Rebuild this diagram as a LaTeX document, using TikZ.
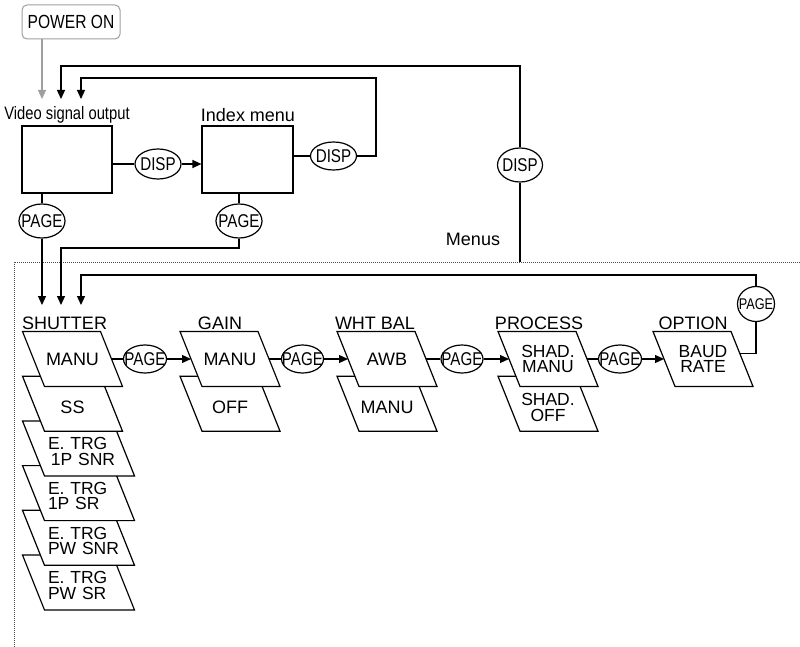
\documentclass[tikz,border=0pt]{standalone}
\usepackage{fontspec}
\setmainfont{Liberation Sans}
\newfontfamily\narrowfont[FakeStretch=0.82]{Liberation Sans}
\usetikzlibrary{arrows.meta,calc,shapes.geometric}
\newcommand\keytext[1]{\makebox[0pt]{#1}}
\newcommand\mycard[6]{%
  \draw[cardline] (#2,#3) coordinate (#1-nw) -- ++(#4,0) coordinate (#1-ne)
     -- ++(22,55) coordinate (#1-se) -- ++(-#4,0) coordinate (#1-sw) -- cycle;
  \coordinate (#1-w) at ($(#1-nw)!0.5!(#1-sw)$);
  \coordinate (#1-e) at ($(#1-ne)!0.5!(#1-se)$);
  \node[cardtext,#6] (#1) at ($(#1-nw)!0.5!(#1-se)$) {#5};
}
\tikzset{
  conn/.style={line width=1.2pt, draw=black},
  arr/.style={conn, -{Triangle[length=9pt,width=8pt]}},
  garr/.style={line width=1.2pt, draw=gray!75, -{Triangle[length=9pt,width=8pt]}},
  box/.style={draw, line width=1.2pt, rectangle, inner sep=0pt},
  keyell/.style={draw, line width=1.2pt, ellipse, inner sep=0pt, fill=white,
     font=\narrowfont\fontsize{18.5}{18.5}\selectfont},
  lbl/.style={inner sep=0pt, anchor=base, font=\fontsize{18}{18}\selectfont},
  cardline/.style={draw, fill=white, line width=1.2pt, line join=miter},
  cardtext/.style={inner sep=0pt, align=center, font=\fontsize{18}{15.5}\selectfont},
  twoline/.style={font=\fontsize{17.5}{15.5}\selectfont},
  etrg/.style={twoline, text width=74pt, align=left, xshift=6.5pt, yshift=-3pt},
  lower/.style={yshift=-4pt},
  frame/.style={draw=gray!60!black, line width=0.8pt, dash pattern=on 1pt off 1pt},
}
\begin{document}
\begin{tikzpicture}[x=1pt,y=-1pt]
\useasboundingbox (0,0) rectangle (800,647);
\fill[white] (0,0) rectangle (800,647);

% dotted frame of the menus
\draw[frame] (800,262) -- (14,262) -- (14,647);

% top part
\node[draw=gray!75, line width=1pt, rounded corners=5pt, minimum width=98pt, minimum height=34pt,
      inner sep=0pt, font=\narrowfont\fontsize{19}{19}\selectfont] (pw) at (71,22) {POWER ON};

\node[box, minimum width=90pt, minimum height=67pt] (vso) at (67,159.5) {};
\node[box, minimum width=91pt, minimum height=67pt] (idx) at (247.5,159.5) {};
\node[lbl, font=\narrowfont\fontsize{18}{18}\selectfont] (vsolbl) at (67,120) {Video signal output};
\node[lbl] (idxlbl) at (248,121.7) {Index menu};
\node[lbl] (menulbl) at (473,245) {Menus};

\node[keyell, minimum width=46pt, minimum height=30pt] (d1) at (158,164) {\keytext{DISP}};
\node[keyell, minimum width=46pt, minimum height=28pt] (d2) at (333.5,156) {\keytext{DISP}};
\node[keyell, minimum width=45pt, minimum height=34pt] (d3) at (520,165) {\keytext{DISP}};
\node[keyell, minimum width=46pt, minimum height=34pt] (p1) at (42,221) {\keytext{PAGE}};
\node[keyell, minimum width=46pt, minimum height=34pt] (p2) at (239,221) {\keytext{PAGE}};

% arrival points
\coordinate (vi1) at (42,99);
\coordinate (vi2) at (61,99);
\coordinate (vi3) at (81,99);
\coordinate (si1) at (42,305);
\coordinate (si2) at (61,305);
\coordinate (si3) at (81,305);
\coordinate (c0) at (520,262);
\coordinate (c1) at (520,66);
\coordinate (c2) at (376,78);
\coordinate (c3) at (239,248);
\coordinate (c4) at (756,275);

\draw[garr] (pw.south -| vi1) -- (vi1);
\draw[conn] (vso.east |- d1) -- (d1);
\draw[arr] (d1) -- (d1 -| idx.west);
\draw[conn] (idx.east |- d2) -- (d2);
\draw[arr] (d2) -| (c2) -| (vi3);
\draw[conn] (c0) -- (d3);
\draw[arr] (d3) -- (c1) -| (vi2);
\draw[conn] (p1 |- vso.south) -- (p1);
\draw[arr] (p1) -- (si1);
\draw[conn] (p2 |- idx.south) -- (p2);
\draw[arr] (p2) -- (c3) -| (si2);

% column labels
\node[lbl] (lsh) at (64.5,329.3) {SHUTTER};
\node[lbl] (lga) at (220,329.3) {GAIN};
\node[lbl] (lwb) at (375,329.3) {WHT BAL};
\node[lbl] (lpr) at (539,329.3) {PROCESS};
\node[lbl] (lop) at (693,329.3) {OPTION};

% SHUTTER cards (bottom first)
\mycard{shpwsr}{22.5}{555.0}{90}{E. TRG\\PW SR}{etrg}
\mycard{shpwsnr}{22.5}{510.3}{90}{E. TRG\\PW SNR}{etrg}
\mycard{sh1psr}{22.5}{465.6}{90}{E. TRG\\1P SR}{etrg}
\mycard{sh1psnr}{22.5}{420.9}{90}{E. TRG\\\,1P SNR}{etrg}
\mycard{shss}{22.5}{376.2}{78}{SS}{lower}
\mycard{shmanu}{22.5}{331.5}{78}{MANU}{}

% GAIN
\mycard{gaoff}{180}{376.2}{78}{OFF}{lower}
\mycard{gamanu}{180}{331.5}{78}{MANU}{}

% WHT BAL
\mycard{wbmanu}{337}{376.2}{78}{MANU}{lower}
\mycard{wbawb}{337}{331.5}{78}{AWB}{}

% PROCESS
\mycard{prsoff}{498}{376.2}{78}{SHAD.\\OFF}{twoline,lower}
\mycard{prsmanu}{498}{331.5}{78}{SHAD.\\MANU}{twoline}

% OPTION
\mycard{opbaud}{653}{331.5}{78}{BAUD\\RATE}{twoline}

% PAGE keys in the row
\node[keyell, minimum width=43pt, minimum height=28pt] (p3) at (145,359) {\keytext{PAGE}};
\node[keyell, minimum width=42pt, minimum height=28pt] (p4) at (302.5,359) {\keytext{PAGE}};
\node[keyell, minimum width=42pt, minimum height=28pt] (p5) at (462,359) {\keytext{PAGE}};
\node[keyell, minimum width=43pt, minimum height=28pt] (p6) at (620,359) {\keytext{PAGE}};
\node[keyell, minimum width=37pt, minimum height=35pt, font=\narrowfont\fontsize{15.5}{15.5}\selectfont] (p7) at (756,304) {\keytext{PAGE}};

\draw[conn] (shmanu-e) -- (p3);
\draw[arr] (p3) -- (gamanu-w);
\draw[conn] (gamanu-e) -- (p4);
\draw[arr] (p4) -- (wbawb-w);
\draw[conn] (wbawb-e) -- (p5);
\draw[arr] (p5) -- (prsmanu-w);
\draw[conn] (prsmanu-e) -- (p6);
\draw[arr] (p6) -- (opbaud-w);

\coordinate (optout) at ($(opbaud-ne)!0.4!(opbaud-se)$);
\draw[conn] (optout) -| (p7);
\draw[arr] (p7) -- (c4) -| (si3);
\end{tikzpicture}
\end{document}
